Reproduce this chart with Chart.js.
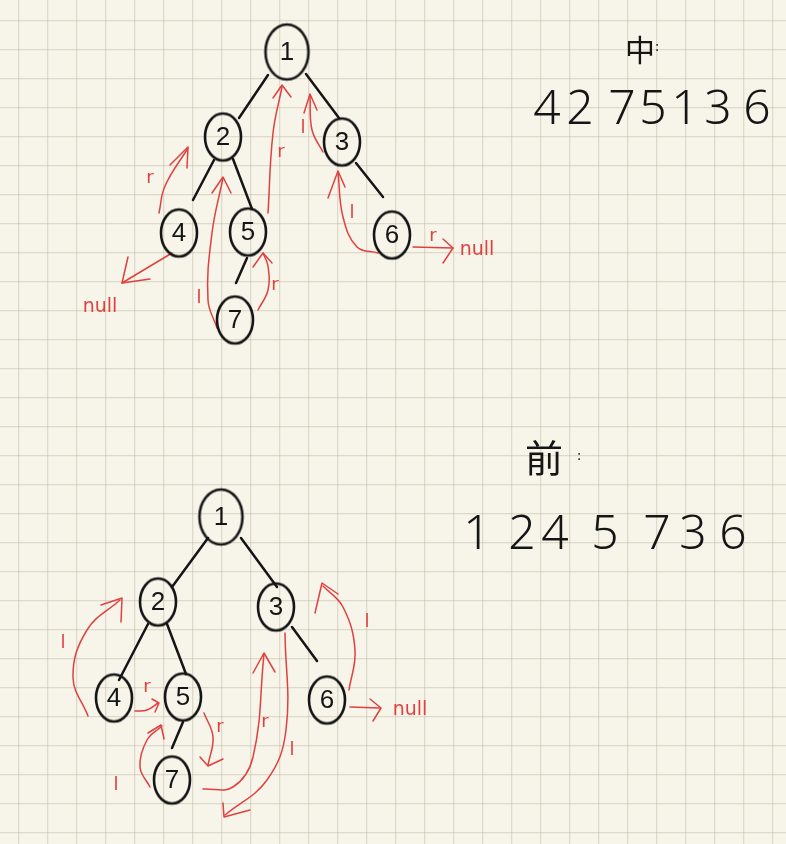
<!DOCTYPE html>
<html>
<head>
<meta charset="utf-8">
<script src="https://cdn.jsdelivr.net/npm/chart.js@4.4.1/dist/chart.umd.min.js"></script>
<style>
  html, body { margin: 0; padding: 0; background: #f7f5ea; }
  #wrap { width: 786px; height: 844px; position: relative; }
</style>
</head>
<body>
<div id="wrap"><canvas id="c"></canvas></div>
<script>
"use strict";

// node labels (same order for both trees)
var nodeLabels = ['1', '2', '3', '4', '5', '7', '6'];

// top tree: inorder threads
var topNodeX = [287, 223, 342, 179, 248, 235, 392];
var topNodeY = [52, 137, 142, 233, 232, 320, 235];
var topEdges = [[268, 75, 239, 118], [306, 74, 339, 118], [214, 160, 193, 200],
                [233, 159, 252, 209], [247, 258, 236, 283], [356, 163, 383, 197]];
var topThreadPaths = [
    [[159, 213], [165, 186], [188, 148]],
    [[172, 253], [147, 268], [122, 283]],
    [[217, 328], [208, 300], [212, 233], [223, 178]],
    [[258, 310], [268, 290], [268, 266], [263, 253]],
    [[268, 213], [273, 133], [282, 87]],
    [[323, 152], [312, 130], [310, 95]],
    [[378, 253], [357, 247], [343, 217], [338, 172]],
    [[413, 247], [453, 248]]
];
var topThreadHeads = [
    [[170, 165], [188, 147], [187, 168]],
    [[128, 257], [122, 283], [150, 279]],
    [[212, 193], [223, 177], [231, 193]],
    [[253, 267], [263, 253], [272, 263]],
    [[273, 98], [282, 85], [291, 97]],
    [[304, 113], [310, 94], [317, 110]],
    [[328, 198], [338, 171], [345, 187]],
    [[443, 239], [453, 248], [443, 263]]
];
var topTagText = ['r', '', 'l', 'r', 'r', 'l', 'l', 'r'];
var topTagX = [150, 0, 199, 275, 281, 303, 352, 433];
var topTagY = [178, 0, 298, 285, 152, 128, 213, 236];
var topNullPos = [[100, 307], [477, 250]];

// bottom tree: preorder threads
var botNodeX = [221, 158, 276, 114, 183, 172, 327];
var botNodeY = [517, 602, 607, 698, 697, 780, 700];
var botEdges = [[208, 538, 172, 587], [241, 538, 277, 587], [148, 624, 119, 680],
                [167, 624, 186, 674], [183, 722, 172, 748], [292, 627, 317, 661]];
var botThreadPaths = [
    [[88, 716], [73, 677], [87, 630], [120, 600]],
    [[135, 711], [147, 710], [158, 703]],
    [[150, 787], [140, 767], [147, 740], [162, 726]],
    [[204, 713], [213, 737], [208, 765]],
    [[203, 789], [233, 787], [253, 757], [264, 654]],
    [[285, 633], [286, 730], [267, 780], [225, 815]],
    [[349, 690], [355, 650], [343, 607], [323, 586]],
    [[350, 707], [380, 708]]
];
var botThreadHeads = [
    [[101, 605], [122, 598], [121, 622]],
    [[152, 699], [159, 703], [155, 712]],
    [[148, 733], [161, 725], [164, 739]],
    [[200, 757], [208, 766], [223, 759]],
    [[253, 673], [264, 653], [275, 672]],
    [[223, 803], [224, 817], [250, 810]],
    [[315, 613], [322, 583], [338, 594]],
    [[370, 699], [381, 708], [373, 721]]
];
var botTagText = ['l', 'r', 'l', 'r', 'r', 'l', 'l', ''];
var botTagX = [63, 147, 116, 220, 265, 292, 367, 0];
var botTagY = [643, 687, 785, 727, 722, 750, 622, 0];
var botNullPos = [[410, 710]];

// traversal results
var inorderTitle = '中';
var inorderSeq = ['4', '2', '7', '5', '1', '3', '6'];
var inorderX = [547, 580, 622, 653, 685, 718, 757];
var preorderTitle = '前';
var preorderSeq = ['1', '2', '4', '5', '7', '3', '6'];
var preorderX = [477, 522, 555, 605, 657, 693, 733];

var INK = '#151515';
var RED = '#e0403e';
var GRID = 'rgba(190, 184, 165, 0.45)';

// hand drawn node ring as point image
function ring(w, h) {
    var cv = document.createElement('canvas');
    cv.width = w + 6;
    cv.height = h + 6;
    var g = cv.getContext('2d');
    g.strokeStyle = INK;
    g.lineWidth = 2.6;
    g.beginPath();
    g.ellipse(cv.width / 2, cv.height / 2, w / 2, h / 2, 0, 0, Math.PI * 2);
    g.stroke();
    return cv;
}
var bigRing = ring(43, 55);
var smallRing = ring(36, 47);

function pts(list) {
    return list.map(function (p) { return { x: p[0], y: p[1] }; });
}

function lineSet(list, color, width, tension) {
    return {
        data: pts(list),
        showLine: true,
        borderColor: color,
        borderWidth: width,
        tension: tension,
        pointRadius: 0,
        borderCapStyle: 'round',
        borderJoinStyle: 'round',
        fill: false
    };
}

function treeSets(nx, ny, edges, paths, heads) {
    var sets = [];
    sets.push({
        data: nx.map(function (x, i) { return { x: x, y: ny[i] }; }),
        pointStyle: function (ctx) { return ctx.dataIndex === 0 ? bigRing : smallRing; },
        pointRadius: 20,
        showLine: false
    });
    edges.forEach(function (e) {
        sets.push(lineSet([[e[0], e[1]], [e[2], e[3]]], INK, 2.5, 0));
    });
    paths.forEach(function (p) { sets.push(lineSet(p, RED, 1.5, 0.4)); });
    heads.forEach(function (h) { sets.push(lineSet(h, RED, 1.5, 0)); });
    return sets;
}

var datasets = treeSets(topNodeX, topNodeY, topEdges, topThreadPaths, topThreadHeads)
    .concat(treeSets(botNodeX, botNodeY, botEdges, botThreadPaths, botThreadHeads));

function gridTicks(start, end) {
    return function (scale) {
        var t = [];
        for (var v = start; v <= end; v += 29) t.push({ value: v });
        scale.ticks = t;
    };
}

var paperText = {
    id: 'paperText',
    afterDatasetsDraw: function (chart) {
        var c = chart.ctx, sx = chart.scales.x, sy = chart.scales.y;
        function put(txt, x, y, font, color) {
            c.font = font;
            c.fillStyle = color;
            c.fillText(txt, sx.getPixelForValue(x), sy.getPixelForValue(y));
        }
        c.save();
        c.textAlign = 'center';
        c.textBaseline = 'middle';
        var numFont = '26px "Liberation Sans"';
        nodeLabels.forEach(function (l, i) {
            put(l, topNodeX[i], topNodeY[i] + 1, numFont, INK);
            put(l, botNodeX[i], botNodeY[i] + 1, numFont, INK);
        });
        var tagFont = '18px "DejaVu Sans"';
        topTagText.forEach(function (t, i) { if (t) put(t, topTagX[i], topTagY[i], tagFont, RED); });
        botTagText.forEach(function (t, i) { if (t) put(t, botTagX[i], botTagY[i], tagFont, RED); });
        var nullFont = '19px "DejaVu Sans"';
        topNullPos.concat(botNullPos).forEach(function (p) { put('null', p[0], p[1], nullFont, RED); });

        put(inorderTitle, 640, 50, '30px "Noto Sans CJK SC"', INK);
        put(':', 657, 47, '14px "DejaVu Sans"', INK);
        put(preorderTitle, 544, 458, '38px "Noto Sans CJK SC"', INK);
        put(':', 579, 456, '14px "DejaVu Sans"', INK);
        var seqFont = '300 48px "Noto Sans"';
        inorderSeq.forEach(function (d, i) { put(d, inorderX[i], 110, seqFont, INK); });
        preorderSeq.forEach(function (d, i) { put(d, preorderX[i], 535, seqFont, INK); });
        c.restore();
    }
};

var chart = new Chart(document.getElementById('c'), {
    type: 'scatter',
    data: { datasets: datasets },
    options: {
        responsive: true,
        maintainAspectRatio: false,
        animation: false,
        events: [],
        layout: { padding: 0, autoPadding: false },
        plugins: { legend: { display: false }, tooltip: { enabled: false } },
        scales: {
            x: {
                type: 'linear', min: 0, max: 786,
                afterBuildTicks: gridTicks(19, 786),
                ticks: { display: false },
                grid: { color: GRID, lineWidth: 1.3, drawTicks: false },
                border: { display: false }
            },
            y: {
                type: 'linear', min: 0, max: 844, reverse: true,
                afterBuildTicks: gridTicks(21, 844),
                ticks: { display: false },
                grid: { color: GRID, lineWidth: 1.3, drawTicks: false },
                border: { display: false }
            }
        }
    },
    plugins: [paperText]
});
</script>
</body>
</html>
